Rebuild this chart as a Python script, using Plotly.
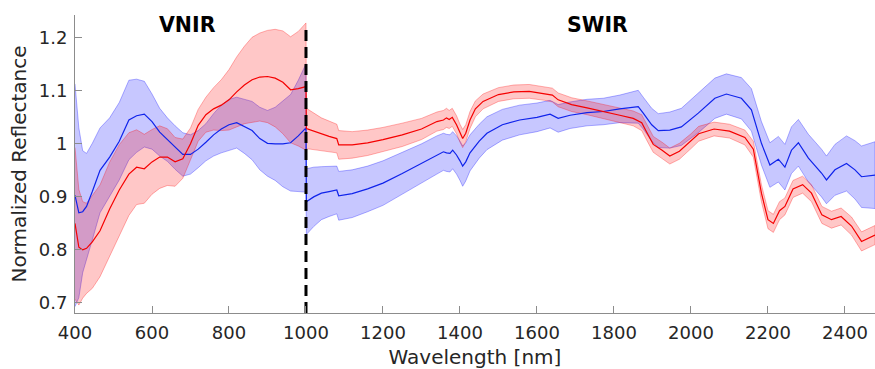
import numpy as np
import plotly.graph_objects as go

# ---------------- data ----------------
wl_vnir = [400, 410, 420, 430, 445, 465, 490, 515, 540, 560, 580, 600, 620, 640, 660,
           680, 700, 720, 740, 760, 780, 800, 820, 840, 860, 880, 900, 920, 940, 960,
           980, 1000]

blue_vnir_mean = [0.903, 0.870, 0.872, 0.882, 0.910, 0.950, 0.975, 1.005, 1.045, 1.053,
                  1.056, 1.042, 1.022, 1.008, 0.993, 0.980, 0.980, 0.990, 1.003, 1.017,
                  1.028, 1.036, 1.040, 1.033, 1.025, 1.010, 1.001, 1.000, 1.000, 1.002,
                  1.015, 1.030]
blue_vnir_std = [0.210, 0.160, 0.115, 0.100, 0.091, 0.080, 0.074, 0.073, 0.075, 0.069,
                 0.062, 0.052, 0.045, 0.041, 0.041, 0.041, 0.037, 0.035, 0.035, 0.040,
                 0.045, 0.048, 0.048, 0.051, 0.055, 0.059, 0.062, 0.069, 0.081, 0.091,
                 0.105, 0.121]

red_vnir_mean = [0.850, 0.805, 0.800, 0.803, 0.815, 0.836, 0.877, 0.913, 0.943, 0.956,
                 0.953, 0.966, 0.975, 0.975, 0.966, 0.972, 1.000, 1.035, 1.055, 1.066,
                 1.073, 1.083, 1.098, 1.111, 1.121, 1.126, 1.127, 1.124, 1.116, 1.102,
                 1.104, 1.108]
red_vnir_std = [0.143, 0.109, 0.091, 0.085, 0.0875, 0.0865, 0.0885, 0.0855, 0.078, 0.0705,
                0.065, 0.061, 0.059, 0.0535, 0.046, 0.037, 0.030, 0.030, 0.033, 0.040,
                0.048, 0.057, 0.066, 0.073, 0.080, 0.083, 0.087, 0.092, 0.097, 0.100,
                0.108, 0.120]

wl_red_swir = [1001, 1020, 1040, 1060, 1080, 1085, 1120, 1160, 1200, 1250, 1300, 1340,
               1357, 1365, 1372, 1380, 1391, 1400, 1407, 1415, 1426, 1440, 1460, 1500,
               1540, 1580, 1620, 1640, 1655, 1690, 1730, 1770, 1815, 1850, 1872, 1885,
               1902, 1925, 1945, 1970, 2000, 2020, 2060, 2100, 2140, 2162, 2183, 2200,
               2214, 2230, 2244, 2265, 2290, 2313, 2340, 2365, 2390, 2417, 2443, 2478]
red_swir_mean = [1.029, 1.024, 1.018, 1.014, 1.010, 0.998, 0.998, 1.002, 1.008, 1.017,
                 1.028, 1.042, 1.045, 1.049, 1.046, 1.050, 1.036, 1.020, 1.010, 1.020,
                 1.045, 1.066, 1.080, 1.093, 1.098, 1.099, 1.095, 1.092, 1.083, 1.074,
                 1.068, 1.062, 1.054, 1.048, 1.040, 1.022, 0.999, 0.988, 0.977, 0.986,
                 1.005, 1.019, 1.028, 1.024, 1.012, 0.990, 0.907, 0.857, 0.850, 0.874,
                 0.882, 0.915, 0.923, 0.907, 0.866, 0.857, 0.863, 0.845, 0.816, 0.828]
red_swir_std = [0.038, 0.034, 0.031, 0.029, 0.027, 0.027, 0.025, 0.024, 0.023, 0.022,
                0.020, 0.018, 0.018, 0.018, 0.017, 0.017, 0.017, 0.017, 0.017, 0.016,
                0.016, 0.015, 0.014, 0.013, 0.013, 0.013, 0.013, 0.013, 0.013, 0.013,
                0.013, 0.013, 0.014, 0.014, 0.015, 0.015, 0.015, 0.015, 0.015, 0.015,
                0.014, 0.014, 0.013, 0.013, 0.014, 0.015, 0.016, 0.017, 0.017, 0.017,
                0.016, 0.016, 0.016, 0.016, 0.016, 0.016, 0.016, 0.017, 0.018, 0.018]

wl_blue_swir = [1001, 1020, 1040, 1060, 1080, 1085, 1120, 1160, 1200, 1250, 1300, 1340,
                1357, 1365, 1374, 1381, 1391, 1400, 1407, 1415, 1426, 1450, 1470, 1510,
                1555, 1600, 1634, 1655, 1686, 1730, 1772, 1815, 1863, 1876, 1898, 1915,
                1945, 1975, 2019, 2062, 2092, 2131, 2157, 2183, 2205, 2227, 2244, 2261,
                2279, 2305, 2339, 2352, 2374, 2404, 2426, 2443, 2478]
blue_swir_mean = [0.891, 0.900, 0.907, 0.910, 0.913, 0.902, 0.906, 0.915, 0.926, 0.944,
                  0.963, 0.979, 0.985, 0.983, 0.982, 0.988, 0.979, 0.968, 0.958, 0.966,
                  0.983, 1.005, 1.020, 1.036, 1.045, 1.050, 1.056, 1.048, 1.054, 1.059,
                  1.061, 1.066, 1.070, 1.058, 1.036, 1.025, 1.026, 1.032, 1.058, 1.086,
                  1.094, 1.086, 1.064, 1.001, 0.960, 0.971, 0.956, 0.988, 1.002, 0.973,
                  0.945, 0.932, 0.951, 0.963, 0.951, 0.938, 0.941]
blue_swir_std = [0.062, 0.056, 0.050, 0.047, 0.045, 0.046, 0.045, 0.043, 0.042, 0.040,
                 0.037, 0.036, 0.035, 0.035, 0.035, 0.035, 0.036, 0.037, 0.038, 0.036,
                 0.034, 0.032, 0.031, 0.029, 0.028, 0.027, 0.026, 0.026, 0.025, 0.025,
                 0.025, 0.026, 0.031, 0.030, 0.031, 0.032, 0.034, 0.035, 0.037, 0.038,
                 0.038, 0.039, 0.040, 0.041, 0.042, 0.043, 0.043, 0.044, 0.044, 0.045,
                 0.045, 0.045, 0.048, 0.052, 0.055, 0.058, 0.063]

x_ticks = [400, 600, 800, 1000, 1200, 1400, 1600, 1800, 2000, 2200, 2400]
y_ticks = [0.7, 0.8, 0.9, 1.0, 1.1, 1.2]
y_tick_text = ["0.7", "0.8", "0.9", "1", "1.1", "1.2"]
region_labels = ["VNIR", "SWIR"]
region_label_x = [693, 1756]
split_wavelength = 1000
split_line_y = [0.681, 1.222]

# ---------------- build figure ----------------
def series(wl_a, m_a, s_a, wl_b, m_b, s_b):
    wl = np.array(wl_a + wl_b, dtype=float)
    m = np.array(m_a + m_b)
    s = np.array(s_a + s_b)
    return wl, m, m + s, m - s

series_def = [
    ("blue", series(wl_vnir, blue_vnir_mean, blue_vnir_std, wl_blue_swir, blue_swir_mean, blue_swir_std),
     "rgba(0,0,255,0.22)", "rgba(0,0,255,0.30)", "rgb(15,35,235)"),
    ("red", series(wl_vnir, red_vnir_mean, red_vnir_std, wl_red_swir, red_swir_mean, red_swir_std),
     "rgba(255,0,0,0.22)", "rgba(255,0,0,0.30)", "rgb(245,0,0)"),
]

fig = go.Figure()
for name, (wl, m, up, lo), fillc, edgec, linec in series_def:
    fig.add_trace(go.Scatter(
        x=np.concatenate([wl, wl[::-1]]), y=np.concatenate([up, lo[::-1]]),
        fill="toself", fillcolor=fillc, mode="lines",
        line=dict(color=edgec, width=1), hoverinfo="skip", showlegend=False))
for name, (wl, m, up, lo), fillc, edgec, linec in series_def:
    fig.add_trace(go.Scatter(x=wl, y=m, mode="lines",
                             line=dict(color=linec, width=1.2), showlegend=False, name=name))

fig.add_trace(go.Scatter(x=[split_wavelength, split_wavelength], y=split_line_y, mode="lines",
                         line=dict(color="black", width=3, dash="11px,6px"),
                         showlegend=False, hoverinfo="skip"))

for txt, xv in zip(region_labels, region_label_x):
    fig.add_annotation(x=xv, y=1.224, text="<b>%s</b>" % txt, showarrow=False,
                       xanchor="center", yanchor="middle",
                       font=dict(family="DejaVu Sans", size=20.5, color="black"))

axis_common = dict(showgrid=False, zeroline=False, showline=True, linecolor="#8c8c8c",
                   linewidth=1, ticks="inside", ticklen=7, tickcolor="#8c8c8c", mirror=False,
                   tickfont=dict(family="DejaVu Sans", size=18, color="#262626"))

fig.update_layout(
    width=875, height=369,
    margin=dict(l=75, r=0, t=15, b=56),
    plot_bgcolor="white", paper_bgcolor="white",
    font=dict(family="DejaVu Sans", color="#262626"),
    xaxis=dict(range=[400, 2478], tickvals=x_ticks, ticklabelstandoff=3,
               title=dict(text="Wavelength [nm]", font=dict(size=20, family="DejaVu Sans", color="#262626"),
                          standoff=8),
               **axis_common),
    yaxis=dict(range=[0.681, 1.243], tickvals=y_ticks, ticktext=y_tick_text, ticklabelstandoff=3,
               title=dict(text="Normalized Reflectance", font=dict(size=20, family="DejaVu Sans", color="#262626"),
                          standoff=6),
               **axis_common),
)

fig.write_html("out.html")
